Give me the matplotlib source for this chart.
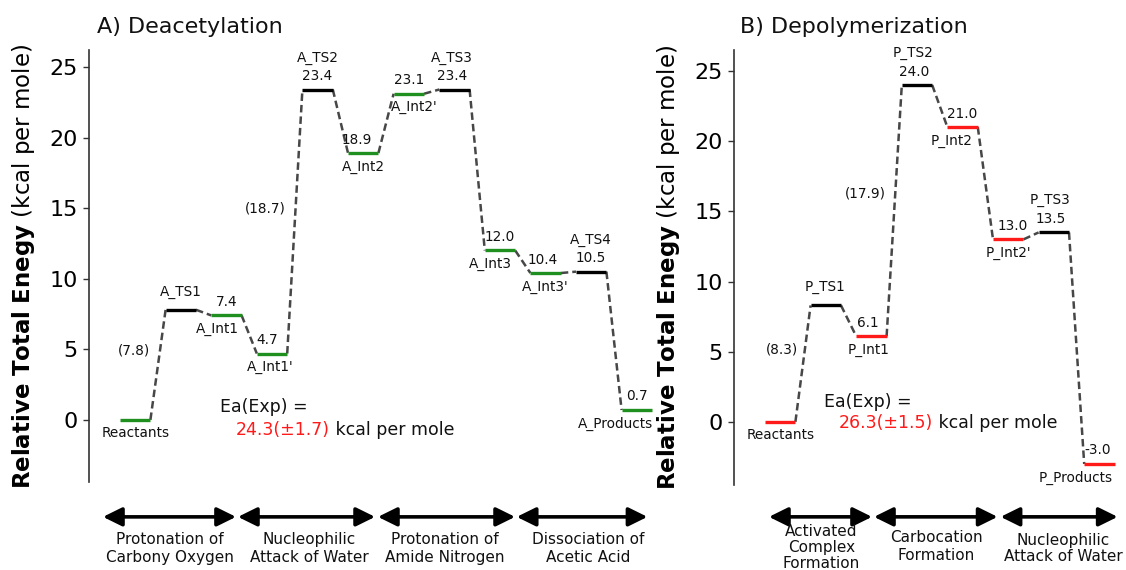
import matplotlib
matplotlib.use("Agg")
import matplotlib.pyplot as plt

# ---------------- data ----------------
a_names = ["Reactants", "A_TS1", "A_Int1", "A_Int1'", "A_TS2", "A_Int2", "A_Int2'",
           "A_TS3", "A_Int3", "A_Int3'", "A_TS4", "A_Products"]
a_energy = [0.0, 7.8, 7.4, 4.7, 23.4, 18.9, 23.1, 23.4, 12.0, 10.4, 10.5, 0.7]
a_is_ts = [False, True, False, False, True, False, False, True, False, False, True, False]
a_show_value = [False, False, True, True, True, True, True, True, True, True, True, True]
a_barriers = ["(7.8)", "(18.7)"]
a_stages = ["Protonation of\nCarbony Oxygen", "Nucleophilic\nAttack of Water",
            "Protonation of\nAmide Nitrogen", "Dissociation of\nAcetic Acid"]
a_ea_value = "24.3(\u00b11.7)"

b_names = ["Reactants", "P_TS1", "P_Int1", "P_TS2", "P_Int2", "P_Int2'", "P_TS3", "P_Products"]
b_energy = [0.0, 8.3, 6.1, 24.0, 21.0, 13.0, 13.5, -3.0]
b_is_ts = [False, True, False, True, False, False, True, False]
b_show_value = [False, False, True, True, True, True, True, True]
b_barriers = ["(8.3)", "(17.9)"]
b_stages = ["Activated\nComplex\nFormation", "Carbocation\nFormation",
            "Nucleophilic\nAttack of Water"]
b_ea_value = "26.3(\u00b11.5)"

yticks = [0, 5, 10, 15, 20, 25]

# ---------------- layout / style ----------------
W, H = 1126, 570
fig = plt.figure(figsize=(W / 100, H / 100), dpi=100)

def px_axes(left, right, top, bottom):
    return fig.add_axes([left / W, (H - bottom) / H, (right - left) / W, (bottom - top) / H])

axA = px_axes(89, 660, 50, 482)
axB = px_axes(734, 1122, 50, 485)
axA.set_xlim(-2.04, -2.04 + 571 / 15.2)
axA.set_ylim(-4.4, 26.2)
axB.set_xlim(-2.04, -2.04 + 388 / 15.2)
axB.set_ylim(-4.5, 26.5)

GREEN = "#1f8f1f"
RED = "#ff1a1a"
DASH = "#474747"
LBL = 9.8

# label pixel offsets
a_name_dx = {2: -9, 3: -2, 6: 5, 8: -10, 11: -21, 7: -3}
a_value_dx = {3: -5, 5: -6, 7: -2, 9: -3}
b_name_dx = {1: -1, 2: -3, 3: -4, 4: -11, 6: -4, 7: -24}
b_value_dx = {2: -4, 3: -3, 5: 4, 6: -3, 7: -2}

a_barrier_pos = [(0.89, 4.89), (9.57, 15.0)]
b_barrier_pos = [(1.1, 5.13), (6.58, 16.3)]

a_arrows = [(-1.12, 7.63), (7.76, 16.78), (16.97, 25.99), (26.1, 34.7)]
a_stage_x = [3.3, 12.43, 21.35, 30.8]
a_arrow_y, a_stage_y = -6.87, -9.1
b_arrows = [(0.26, 7.04), (7.17, 15.3), (15.5, 23.2)]
b_stage_x = [3.7, 11.25, 19.6]
b_arrow_y = -6.77
b_stage_y = [-8.95, -8.87, -9.0]
b_stage_ls = [1.07, 1.2, 1.1]


def draw_profile(ax, names, energy, is_ts, show_val, color, name_dx, value_dx):
    n = len(names)
    for i in range(n):
        x0, x1 = 3 * i, 3 * i + 2
        c = "black" if is_ts[i] else color
        ax.plot([x0, x1], [energy[i], energy[i]], color=c, lw=2.4,
                solid_capstyle="butt", zorder=3)
        if i < n - 1:
            ax.plot([x1, x1 + 1], [energy[i], energy[i + 1]], color=DASH, lw=1.8,
                    ls=(0, (3.0, 1.6)), zorder=2)
        xc = 3 * i + 1
        vdx = value_dx.get(i, 0)
        ndx = name_dx.get(i, 0)
        if show_val[i]:
            ax.annotate(f"{energy[i]:.1f}", (xc, energy[i]), xytext=(vdx, 13.5),
                        textcoords="offset pixels", ha="center", va="center",
                        fontsize=LBL, color="#111111")
        if is_ts[i]:
            dy = 32 if show_val[i] else 18
            ax.annotate(names[i], (xc, energy[i]), xytext=(ndx, dy),
                        textcoords="offset pixels", ha="center", va="center",
                        fontsize=LBL, color="#111111")
        else:
            ax.annotate(names[i], (xc, energy[i]), xytext=(ndx, -13.5),
                        textcoords="offset pixels", ha="center", va="center",
                        fontsize=LBL, color="#111111")


def style_axis(ax):
    for s in ("top", "right", "bottom"):
        ax.spines[s].set_visible(False)
    ax.spines["left"].set_color("#333333")
    ax.spines["left"].set_linewidth(1.2)
    ax.set_xticks([])
    ax.set_yticks(yticks)
    ax.tick_params(axis="y", labelsize=16, length=4, width=1.0, color="#333333", pad=4)
    ax.set_ylabel(r"$\mathbf{Relative\ Total\ Enegy}$ (kcal per mole)", fontsize=16.5,
                  labelpad=9)


def draw_ea(ax, x1, y1, x2, y2, val):
    ax.text(x1, y1, "Ea(Exp) =", fontsize=12.5, ha="left", va="center", color="#111111")
    t = ax.text(x2, y2, val, fontsize=12.5, ha="left", va="center", color=RED)
    ax.annotate(" kcal per mole", xy=(1, 0), xycoords=t, ha="left", va="bottom",
                fontsize=12.5, color="#111111")


def draw_stages(ax, arrows, ay, xs, ys, labels, lss):
    for (x0, x1) in arrows:
        ax.annotate("", xy=(x1, ay), xytext=(x0, ay), annotation_clip=False,
                    arrowprops=dict(arrowstyle="<|-|>,head_length=0.85,head_width=0.42",
                                    mutation_scale=13.5, lw=2.6, color="black",
                                    shrinkA=0, shrinkB=0))
    for x, y, lab, ls in zip(xs, ys, labels, lss):
        ax.text(x, y, lab, ha="center", va="center", fontsize=11, linespacing=ls,
                color="#111111", clip_on=False)


for ax in (axA, axB):
    style_axis(ax)

draw_profile(axA, a_names, a_energy, a_is_ts, a_show_value, GREEN, a_name_dx, a_value_dx)
draw_profile(axB, b_names, b_energy, b_is_ts, b_show_value, RED, b_name_dx, b_value_dx)

for lab, (x, y) in zip(a_barriers, a_barrier_pos):
    axA.text(x, y, lab, ha="center", va="center", fontsize=LBL, color="#111111")
for lab, (x, y) in zip(b_barriers, b_barrier_pos):
    axB.text(x, y, lab, ha="center", va="center", fontsize=LBL, color="#111111")

draw_ea(axA, 6.58, 0.92, 7.63, -0.71, a_ea_value)
draw_ea(axB, 3.88, 1.43, 4.87, -0.07, b_ea_value)

draw_stages(axA, a_arrows, a_arrow_y, a_stage_x, [a_stage_y] * 4, a_stages, [1.2] * 4)
draw_stages(axB, b_arrows, b_arrow_y, b_stage_x, b_stage_y, b_stages, b_stage_ls)

fig.text(97 / W, 1 - 27 / H, "A) Deacetylation", fontsize=16, ha="left", va="center",
         color="#111111")
fig.text(740 / W, 1 - 27 / H, "B) Depolymerization", fontsize=16, ha="left", va="center",
         color="#111111")

fig.savefig("out.png", dpi=100)
